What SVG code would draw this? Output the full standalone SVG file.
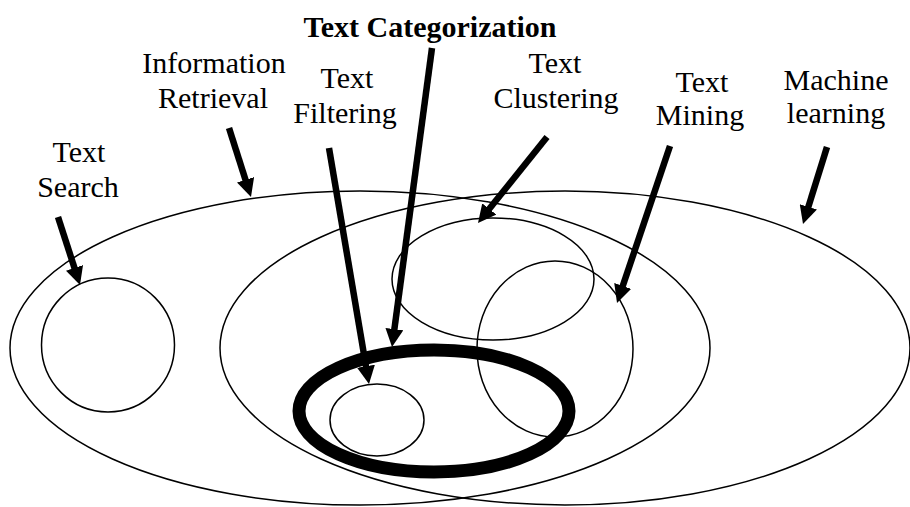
<svg xmlns="http://www.w3.org/2000/svg" width="910" height="507" viewBox="0 0 910 507">
  <style>
    .set { fill: none; stroke: #000; stroke-width: 1.5; }
    .focus { fill: none; stroke: #000; stroke-width: 13; }
    .lbl { font-size: 30px; fill: #000; text-anchor: middle; }
    .title { font-weight: bold; }
    .arrow { stroke: #000; stroke-width: 6.5; fill: none; marker-end: url(#head); }
  </style>
  <defs>
    <marker id="head" markerUnits="userSpaceOnUse" markerWidth="18" markerHeight="18" viewBox="0 -9 18 18" refX="4" refY="0" orient="auto">
      <path d="M0,-9 L18,0 L0,9 Z" fill="#000"/>
    </marker>
  </defs>
  <rect width="910" height="507" fill="#fff"/>

  <!-- field sets -->
  <g id="information-retrieval"><ellipse class="set" cx="360" cy="348" rx="350" ry="157"/></g>
  <g id="machine-learning"><ellipse class="set" cx="565" cy="348" rx="345" ry="157"/></g>
  <g id="text-search"><ellipse class="set" cx="108" cy="345" rx="66.5" ry="67"/></g>
  <g id="text-clustering"><ellipse class="set" cx="493" cy="279" rx="101" ry="61"/></g>
  <g id="text-mining"><ellipse class="set" cx="555" cy="349" rx="78" ry="88"/></g>
  <g id="text-categorization"><ellipse class="focus" cx="434" cy="411" rx="135" ry="61"/></g>
  <g id="text-filtering"><ellipse class="set" cx="377" cy="420" rx="47" ry="36"/></g>

  <!-- labels -->
  <g id="labels" font-family="Liberation Serif, DejaVu Serif, serif">
    <text class="lbl title" x="430" y="37">Text Categorization</text>
    <text class="lbl" x="214" y="73">Information</text>
    <text class="lbl" x="213" y="108">Retrieval</text>
    <text class="lbl" x="79" y="162">Text</text>
    <text class="lbl" x="78" y="197">Search</text>
    <text class="lbl" x="347" y="88">Text</text>
    <text class="lbl" x="345" y="123">Filtering</text>
    <text class="lbl" x="555" y="73">Text</text>
    <text class="lbl" x="556" y="108">Clustering</text>
    <text class="lbl" x="702" y="92">Text</text>
    <text class="lbl" x="700" y="125">Mining</text>
    <text class="lbl" x="836" y="90">Machine</text>
    <text class="lbl" x="836" y="123">learning</text>
  </g>

  <!-- connectors -->
  <g id="connectors">
    <line class="arrow" x1="58" y1="217" x2="75.7" y2="271.7"/>
    <line class="arrow" x1="229" y1="128" x2="246.75" y2="183.66"/>
    <line class="arrow" x1="329" y1="148" x2="366.66" y2="370.2"/>
    <line class="arrow" x1="432" y1="48" x2="393.86" y2="333.12"/>
    <line class="arrow" x1="547" y1="137" x2="486.76" y2="212.08"/>
    <line class="arrow" x1="670" y1="146" x2="621.48" y2="289.73"/>
    <line class="arrow" x1="827" y1="147" x2="807.17" y2="210.63"/>
  </g>
</svg>
